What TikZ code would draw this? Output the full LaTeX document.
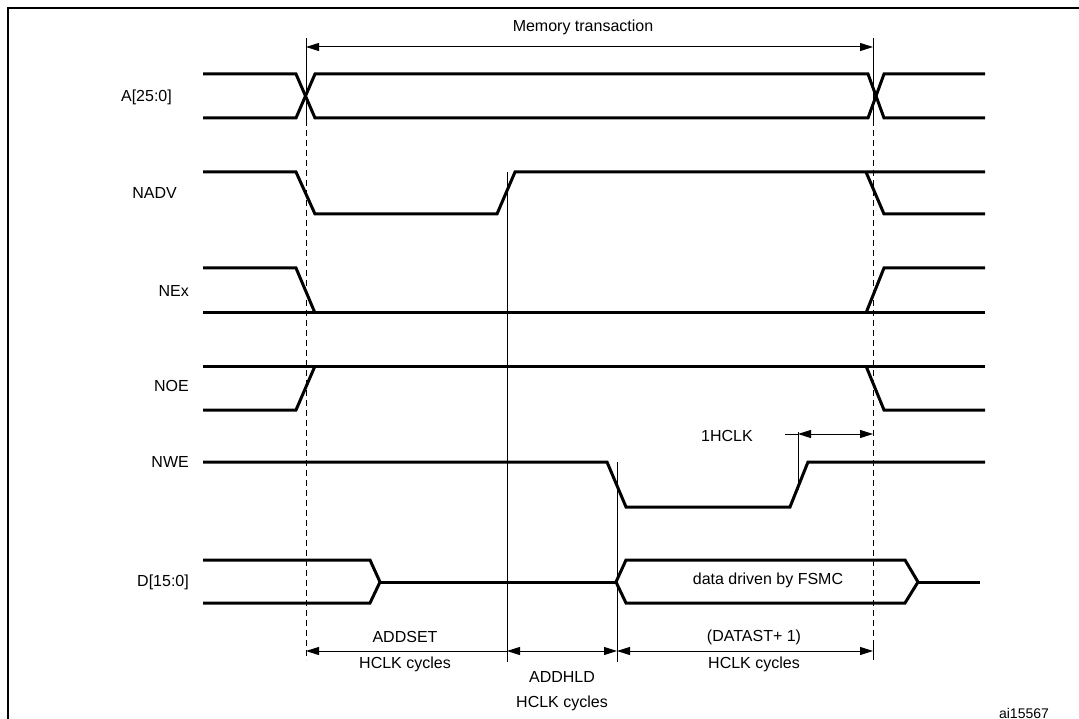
\documentclass[tikz,border=0pt]{standalone}
\usepackage{fontspec}
\setmainfont{Liberation Sans}
\usetikzlibrary{arrows.meta}
\begin{document}
\begin{tikzpicture}[x=1pt,y=-1pt,
  sig/.style={line width=3pt,line join=miter},
  thin/.style={line width=1pt},
  dim/.style={line width=1pt,-{Triangle[length=13pt,width=8pt]}},
  ddim/.style={line width=1pt,{Triangle[length=13pt,width=8pt]}-{Triangle[length=13pt,width=8pt]}},
  lbl/.style={font=\fontsize{16}{19}\selectfont,inner sep=0pt},
  signame/.style={lbl,anchor=east}]
\useasboundingbox (0,0) rectangle (1079,719);
\draw[line width=2.5pt] (8,730) -- (8,8) -- (1090,8);
% signal names
\node[signame] (nA) at (172,97) {A[25:0]};
\node[signame] (nNADV) at (177,193) {NADV};
\node[signame] (nNEx) at (189,291) {NEx};
\node[signame] (nNOE) at (189,386) {NOE};
\node[signame] (nNWE) at (189,462) {NWE};
\node[signame] (nD) at (189,582) {D[15:0]};
% A
\draw[sig] (203,74) -- (296,74) -- (315,118) -- (868,118) -- (884,74) -- (985,74);
\draw[sig] (203,118) -- (296,118) -- (315,74) -- (868,74) -- (884,118) -- (985,118);
% NADV
\draw[sig] (203,172) -- (296,172) -- (315,214) -- (497,214) -- (515,172) -- (985,172);
\draw[sig] (866,172) -- (884,214) -- (985,214);
% NEx
\draw[sig] (203,268) -- (296,268) -- (315,313);
\draw[sig] (203,313) -- (985,313);
\draw[sig] (866,313) -- (884,268) -- (985,268);
% NOE
\draw[sig] (203,366) -- (985,366);
\draw[sig] (203,410) -- (296,410) -- (315,366);
\draw[sig] (866,366) -- (884,410) -- (985,410);
% NWE
\draw[sig] (203,462) -- (607,462) -- (626,507) -- (790,507) -- (808,462) -- (985,462);
% D
\draw[sig] (203,560) -- (370,560) -- (380,582) -- (370,603) -- (203,603);
\draw[sig] (380,582) -- (616,582);
\draw[sig] (626,560) -- (905,560) -- (918,582) -- (905,603) -- (626,603) -- (616,582) -- cycle;
\draw[sig] (918,582) -- (980,582);
\node[lbl] (data) at (768,580) {data driven by FSMC};
% vertical references
\coordinate (t1) at (306,38); \coordinate (t2) at (873,38);
\draw[thin] (t1) -- (306,120); \draw[thin] (t2) -- (873,120);
\draw[thin,dash pattern=on 6pt off 4pt] (306,120) -- (306,660);
\draw[thin,dash pattern=on 6pt off 4pt] (873,120) -- (873,640);
\draw[thin] (873,640) -- (873,660);
\draw[thin] (507,172) -- (507,662);
\draw[thin] (617,462) -- (617,662);
\draw[thin] (798,432) -- (798,490);
% memory transaction
\draw[ddim] (306,47) -- (873,47);
\node[lbl] (mt) at (583,27) {Memory transaction};
% 1HCLK
\node[lbl] (h1) at (727,436) {1HCLK};
\coordinate (h1a) at (785,434);
\draw[thin] (h1a) -- (798,434);
\draw[ddim] (798,434) -- (873,434);
% bottom dims
\draw[dim] (507,651) -- (306,651);
\draw[ddim] (507,651) -- (617,651);
\draw[ddim] (617,651) -- (873,651);
\node[lbl] (as1) at (405,637) {ADDSET};
\node[lbl] (as2) at (405,664) {HCLK cycles};
\node[lbl] (ah1) at (562,677) {ADDHLD};
\node[lbl] (ah2) at (562,703) {HCLK cycles};
\node[lbl] (ds1) at (754,637) {(DATAST+ 1)};
\node[lbl] (ds2) at (754,664) {HCLK cycles};
\node[lbl,font=\fontsize{14}{16}\selectfont] (ai) at (1024,713) {ai15567};
\end{tikzpicture}
\end{document}
